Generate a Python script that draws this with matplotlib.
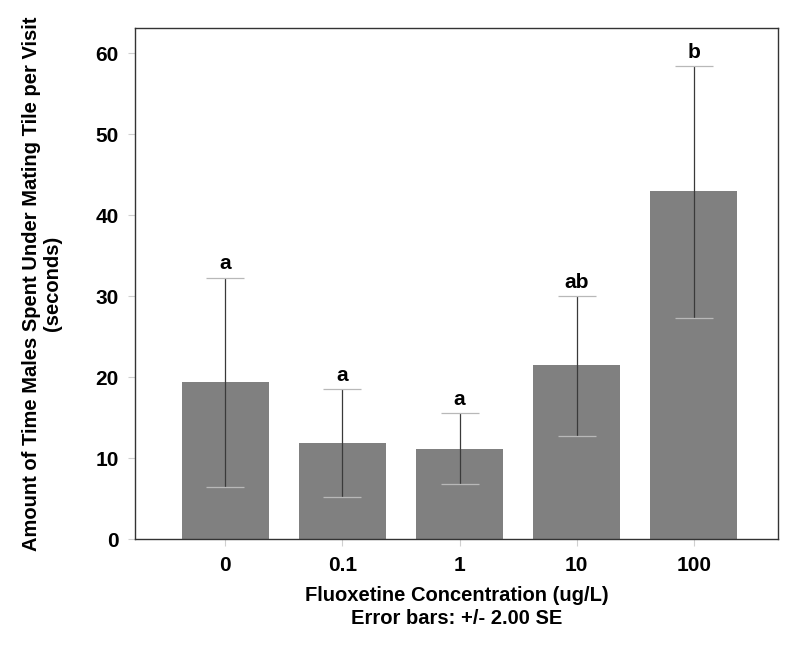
import matplotlib.pyplot as plt
import numpy as np

plt.rcParams['font.family'] = ['Liberation Sans', 'DejaVu Sans']
plt.rcParams['font.weight'] = 'bold'

# ---------- data ----------
concentrations = ['0', '0.1', '1', '10', '100']
means = [19.4, 11.85, 11.1, 21.5, 43.0]
err_low = [6.5, 5.2, 6.8, 12.8, 27.3]
err_high = [32.3, 18.5, 15.6, 30.0, 58.4]
groups = ['a', 'a', 'a', 'ab', 'b']

x = np.arange(len(concentrations))
means_arr = np.array(means)
yerr = np.vstack([means_arr - np.array(err_low), np.array(err_high) - means_arr])

fig = plt.figure(figsize=(8.0, 6.45), dpi=100)
ax = fig.add_axes([0.169, 0.164, 0.8035, 0.7926])

ax.bar(x, means, width=0.74, color='#808080', zorder=1)
ax.errorbar(x, means, yerr=yerr, fmt='none', ecolor='#3a3a3a', elinewidth=0.9,
            capsize=0, zorder=2)
# light wide caps, like the original
ax.errorbar(x, means, yerr=yerr, fmt='none', ecolor='#b8b8b8', elinewidth=0,
            capsize=13.5, capthick=0.9, zorder=2)

for xi, top, g in zip(x, err_high, groups):
    ax.annotate(g, (xi, top), xytext=(0, 3), textcoords='offset points',
                ha='center', va='bottom', fontsize=15, fontweight='bold')

ax.set_xlim(-0.77, 4.72)
ax.set_ylim(0, 63.1)
ax.set_xticks(x)
ax.set_xticklabels(concentrations)
ax.set_yticks(np.arange(0, 61, 10))
ax.tick_params(axis='both', labelsize=15, length=5, color='#d0d0d0', pad=7)
for sp in ax.spines.values():
    sp.set_color('#333333')
    sp.set_linewidth(1.0)

ax.set_xlabel('Fluoxetine Concentration (ug/L)\nError bars: +/- 2.00 SE',
              fontsize=14.5, fontweight='bold', labelpad=8, linespacing=1.3)
ax.set_ylabel('Amount of Time Males Spent Under Mating Tile per Visit\n(seconds)',
              fontsize=14.5, fontweight='bold', labelpad=24, linespacing=1.15)

fig.savefig('out.png', dpi=100)
